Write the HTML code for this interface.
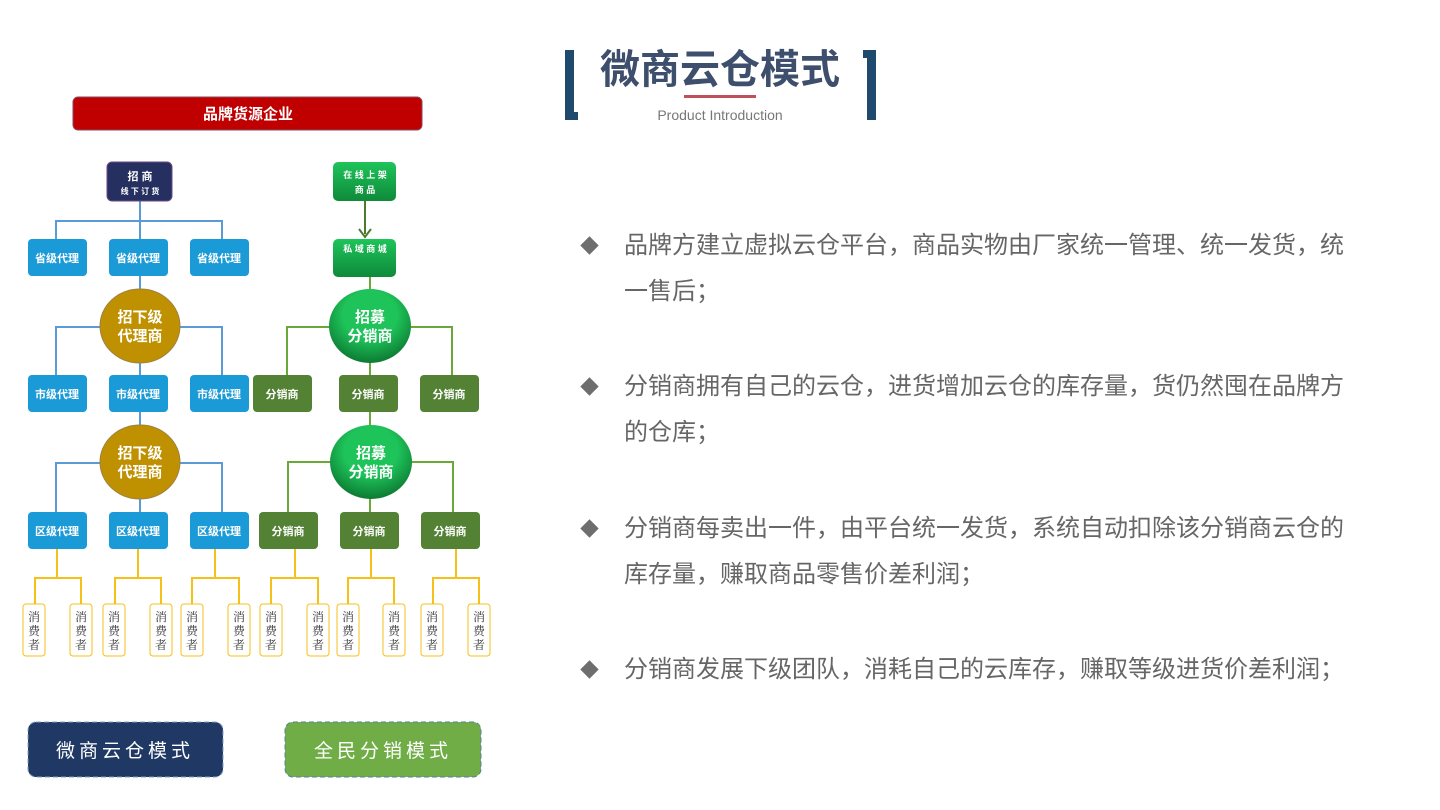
<!DOCTYPE html>
<html><head><meta charset="utf-8"><style>
body{margin:0;width:1440px;height:810px;background:#fff;position:relative;overflow:hidden;font-family:"Liberation Sans","Noto Sans CJK SC",sans-serif}
.b{position:absolute;color:#666;font-size:24px;line-height:46px;left:624px;width:722px}
.d{position:absolute;left:583px;width:13px;height:13px;background:#6e6e6e;transform:rotate(45deg)}
</style></head><body>
<div style="position:absolute;left:565px;top:50px;width:9px;height:70px;background:#1f4a6e"></div>
<div style="position:absolute;left:565px;top:112px;width:13px;height:8px;background:#1f4a6e"></div>
<div style="position:absolute;left:867px;top:50px;width:9px;height:70px;background:#1f4a6e"></div>
<div style="position:absolute;left:863px;top:50px;width:13px;height:8px;background:#1f4a6e"></div>
<div style="position:absolute;left:590px;top:40px;width:260px;text-align:center;font-size:40px;font-weight:bold;color:#3d4f6d;line-height:60px">微商云仓模式</div>
<div style="position:absolute;left:684px;top:95px;width:72px;height:3px;background:#c0505a"></div>
<div style="position:absolute;left:620px;top:107px;width:200px;text-align:center;font-size:14px;color:#777">Product Introduction</div>

<div class="d" style="top:239px"></div>
<div class="b" style="top:223px">品牌方建立虚拟云仓平台，商品实物由厂家统一管理、统一发货，统一售后；</div>
<div class="d" style="top:380px"></div>
<div class="b" style="top:364px">分销商拥有自己的云仓，进货增加云仓的库存量，货仍然囤在品牌方的仓库；</div>
<div class="d" style="top:522px"></div>
<div class="b" style="top:506px">分销商每卖出一件，由平台统一发货，系统自动扣除该分销商云仓的库存量，赚取商品零售价差利润；</div>
<div class="d" style="top:663px"></div>
<div class="b" style="top:647px">分销商发展下级团队，消耗自己的云库存，赚取等级进货价差利润；</div>

<svg width="500" height="810" style="position:absolute;left:0;top:0" font-family="Liberation Sans,Noto Sans CJK SC,sans-serif">
<defs>
<linearGradient id="g1" x1="0" y1="0" x2="0" y2="1"><stop offset="0" stop-color="#1ec45a"/><stop offset="1" stop-color="#0f8a3a"/></linearGradient>
<radialGradient id="g2" cx="0.5" cy="0.35" r="0.65"><stop offset="0.5" stop-color="#1ec45a"/><stop offset="1" stop-color="#0d7a33"/></radialGradient>
</defs>
<rect x="73" y="97" width="349" height="33" rx="5" fill="#c00000" stroke="#8a4a5a"/>
<text x="248" y="119" text-anchor="middle" fill="#fff" font-size="15" font-weight="bold">品牌货源企业</text>
<g stroke="#5b9bd5" stroke-width="2" fill="none">
<path d="M140 201V239M56 239V221H222V239"/>
<path d="M140 276V290M56 375V327H222V375M140 362V375"/>
<path d="M140 412V425M56 512V463H222V512M140 498V512"/>
</g>
<g stroke="#6aa83a" stroke-width="2" fill="none">
<path d="M370 277V290M287 375V327H452V375M370 362V375"/>
<path d="M370 412V425M288 512V462H453V512M370 498V512"/>
<path d="M365 201V234" stroke="#4a7a2a"/>
</g>
<path d="M359 229L365 237L371 229" stroke="#4a7a2a" stroke-width="2" fill="none"/>
<g stroke="#f5c018" stroke-width="2" fill="none">
<path d="M57 549V578M35 604V578H81V604"/>
<path d="M138 549V578M115 604V578H161V604"/>
<path d="M215 549V578M192 604V578H239V604"/>
<path d="M295 549V578M271 604V578H318V604"/>
<path d="M371 549V578M348 604V578H394V604"/>
<path d="M456 549V578M433 604V578H479V604"/>
</g>
<rect x="107" y="162" width="65" height="39" rx="5" fill="#253060" stroke="#6a4a8a"/>
<text x="140" y="180" text-anchor="middle" fill="#fff" font-size="11" font-weight="bold">招 商</text>
<text x="140" y="194" text-anchor="middle" fill="#fff" font-size="8" font-weight="bold">线 下 订 货</text>
<rect x="333" y="162" width="63" height="39" rx="5" fill="url(#g1)"/>
<text x="365" y="178" text-anchor="middle" fill="#fff" font-size="9" font-weight="bold">在 线 上 架</text>
<text x="365" y="193" text-anchor="middle" fill="#fff" font-size="9" font-weight="bold">商 品</text>
<rect x="333" y="239" width="63" height="38" rx="5" fill="url(#g1)"/>
<text x="365" y="252" text-anchor="middle" fill="#fff" font-size="9" font-weight="bold">私 域 商 城</text>
<g fill="#1a9ad6">
<rect x="28" y="239" width="59" height="37" rx="4"/><rect x="109" y="239" width="59" height="37" rx="4"/><rect x="190" y="239" width="59" height="37" rx="4"/>
<rect x="28" y="375" width="59" height="37" rx="4"/><rect x="109" y="375" width="59" height="37" rx="4"/><rect x="190" y="375" width="59" height="37" rx="4"/>
<rect x="28" y="512" width="59" height="37" rx="4"/><rect x="109" y="512" width="59" height="37" rx="4"/><rect x="190" y="512" width="59" height="37" rx="4"/>
</g>
<g fill="#548235">
<rect x="253" y="375" width="59" height="37" rx="4"/><rect x="339" y="375" width="59" height="37" rx="4"/><rect x="420" y="375" width="59" height="37" rx="4"/>
<rect x="259" y="512" width="59" height="37" rx="4"/><rect x="340" y="512" width="59" height="37" rx="4"/><rect x="421" y="512" width="59" height="37" rx="4"/>
</g>
<g fill="#fff" font-size="11" font-weight="bold" text-anchor="middle">
<text x="57" y="262">省级代理</text><text x="138" y="262">省级代理</text><text x="219" y="262">省级代理</text>
<text x="57" y="398">市级代理</text><text x="138" y="398">市级代理</text><text x="219" y="398">市级代理</text>
<text x="57" y="535">区级代理</text><text x="138" y="535">区级代理</text><text x="219" y="535">区级代理</text>
<text x="282" y="398">分销商</text><text x="368" y="398">分销商</text><text x="449" y="398">分销商</text>
<text x="288" y="535">分销商</text><text x="369" y="535">分销商</text><text x="450" y="535">分销商</text>
</g>
<ellipse cx="140" cy="326" rx="40" ry="37" fill="#bf9000" stroke="#a08040"/>
<ellipse cx="140" cy="462" rx="40" ry="37" fill="#bf9000" stroke="#a08040"/>
<ellipse cx="370" cy="326" rx="41" ry="37" fill="url(#g2)"/>
<ellipse cx="371" cy="462" rx="41" ry="37" fill="url(#g2)"/>
<g fill="#fff" font-size="15" font-weight="bold" text-anchor="middle">
<text x="140" y="322">招下级</text><text x="140" y="341">代理商</text>
<text x="140" y="458">招下级</text><text x="140" y="477">代理商</text>
<text x="370" y="322">招募</text><text x="370" y="341">分销商</text>
<text x="371" y="458">招募</text><text x="371" y="477">分销商</text>
</g>
<g fill="#fff" stroke="#f5c018" stroke-width="1">
<rect x="23" y="604" width="22" height="52" rx="3"/><rect x="70" y="604" width="22" height="52" rx="3"/>
<rect x="103" y="604" width="22" height="52" rx="3"/><rect x="150" y="604" width="22" height="52" rx="3"/>
<rect x="181" y="604" width="22" height="52" rx="3"/><rect x="228" y="604" width="22" height="52" rx="3"/>
<rect x="260" y="604" width="22" height="52" rx="3"/><rect x="307" y="604" width="22" height="52" rx="3"/>
<rect x="337" y="604" width="22" height="52" rx="3"/><rect x="383" y="604" width="22" height="52" rx="3"/>
<rect x="421" y="604" width="22" height="52" rx="3"/><rect x="468" y="604" width="22" height="52" rx="3"/>
</g>
<g fill="#333" font-size="12" text-anchor="middle" font-family="Liberation Serif,Noto Serif CJK SC,serif">
<text x="34" y="621">消</text><text x="34" y="635">费</text><text x="34" y="649">者</text>
<text x="81" y="621">消</text><text x="81" y="635">费</text><text x="81" y="649">者</text>
<text x="114" y="621">消</text><text x="114" y="635">费</text><text x="114" y="649">者</text>
<text x="161" y="621">消</text><text x="161" y="635">费</text><text x="161" y="649">者</text>
<text x="192" y="621">消</text><text x="192" y="635">费</text><text x="192" y="649">者</text>
<text x="239" y="621">消</text><text x="239" y="635">费</text><text x="239" y="649">者</text>
<text x="271" y="621">消</text><text x="271" y="635">费</text><text x="271" y="649">者</text>
<text x="318" y="621">消</text><text x="318" y="635">费</text><text x="318" y="649">者</text>
<text x="348" y="621">消</text><text x="348" y="635">费</text><text x="348" y="649">者</text>
<text x="394" y="621">消</text><text x="394" y="635">费</text><text x="394" y="649">者</text>
<text x="432" y="621">消</text><text x="432" y="635">费</text><text x="432" y="649">者</text>
<text x="479" y="621">消</text><text x="479" y="635">费</text><text x="479" y="649">者</text>
</g>
<rect x="28" y="722" width="195" height="55" rx="8" fill="#1f3864" stroke="#8aa0c0" stroke-dasharray="5,3"/>
<rect x="285" y="722" width="196" height="55" rx="8" fill="#70ad47" stroke="#5a7ea8" stroke-dasharray="5,3"/>
<text x="125" y="757" text-anchor="middle" fill="#fff" font-size="19" letter-spacing="4">微商云仓模式</text>
<text x="383" y="757" text-anchor="middle" fill="#fff" font-size="19" letter-spacing="4">全民分销模式</text>
</svg>
</body></html>
